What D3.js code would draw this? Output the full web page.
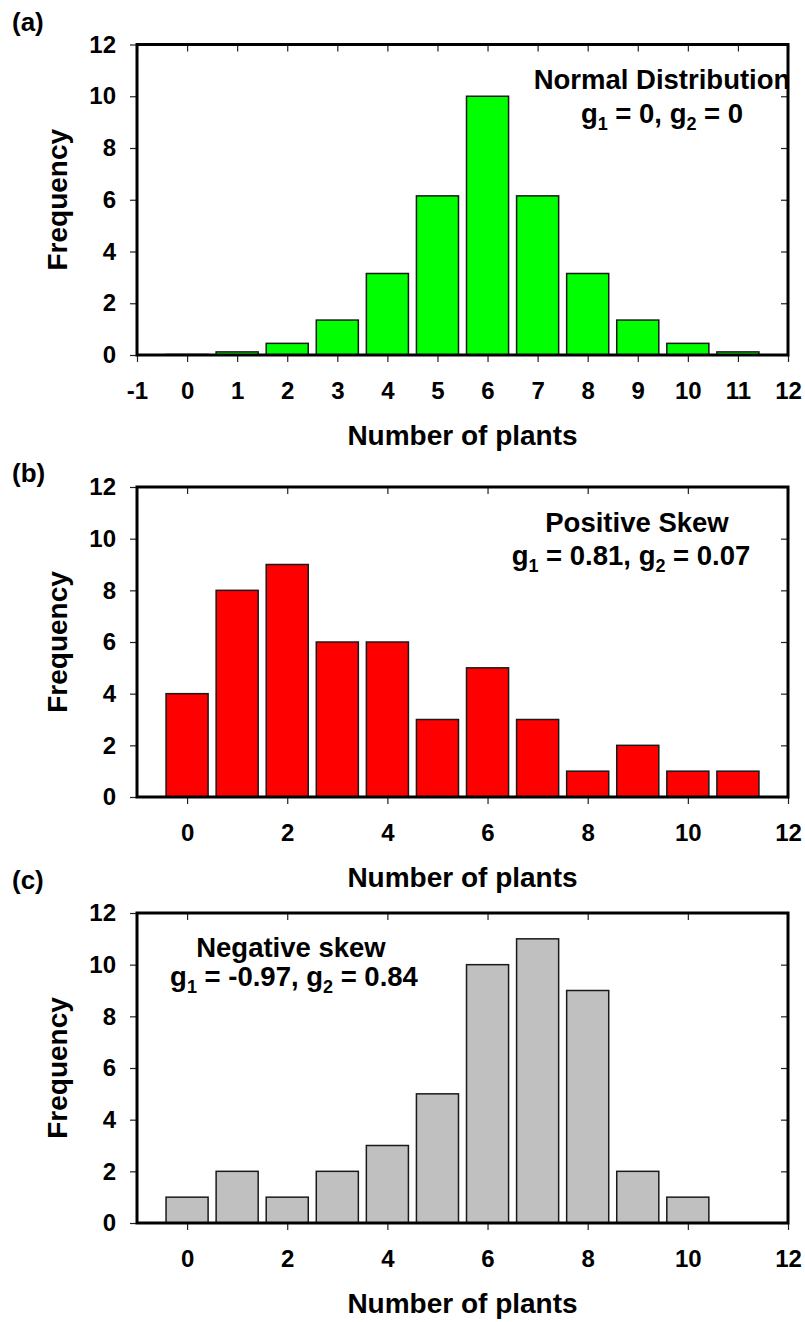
<!DOCTYPE html>
<html>
<head>
<meta charset="utf-8">
<script src="https://cdn.jsdelivr.net/npm/d3@7"></script>
<style>
  body { margin: 0; background: #fff; }
  svg { display: block; }
  text { font-family: "Liberation Sans", Arial, sans-serif; font-weight: bold; fill: #000; }
</style>
</head>
<body>
<div id="chart"></div>
<script>
const width = 805;
const height = 1322;

// DATA
const binsA = [0, 1, 2, 3, 4, 5, 6, 7, 8, 9, 10, 11];
const freqA = [0.02, 0.12, 0.45, 1.35, 3.15, 6.15, 10, 6.15, 3.15, 1.35, 0.45, 0.12];

const binsB = [0, 1, 2, 3, 4, 5, 6, 7, 8, 9, 10, 11];
const freqB = [4, 8, 9, 6, 6, 3, 5, 3, 1, 2, 1, 1];

const binsC = [0, 1, 2, 3, 4, 5, 6, 7, 8, 9, 10];
const freqC = [1, 2, 1, 2, 3, 5, 10, 11, 9, 2, 1];

const yTicks = [0, 2, 4, 6, 8, 10, 12];
const xTicksA = [-1, 0, 1, 2, 3, 4, 5, 6, 7, 8, 9, 10, 11, 12];
const xTicksBC = [0, 2, 4, 6, 8, 10, 12];

const xDomain = [-1, 12];
const yDomain = [0, 12];

const xTitle = "Number of plants";
const yTitle = "Frequency";

// LAYOUT
const left = 137, right = 788;
const barWidth = 0.84;

const panels = [
  {
    label: "(a)", labelY: 31, top: 44.5, bottom: 355,
    bins: binsA, freq: freqA, color: "#00ff00", xTicks: xTicksA,
    note: ["Normal Distribution", ["0", "0"]],
    note1: [662, 89], note2: [662, 123]
  },
  {
    label: "(b)", labelY: 482, top: 487, bottom: 797,
    bins: binsB, freq: freqB, color: "#ff0000", xTicks: xTicksBC,
    note: ["Positive Skew", ["0.81", "0.07"]],
    note1: [637, 532], note2: [631, 565]
  },
  {
    label: "(c)", labelY: 889, top: 913, bottom: 1223,
    bins: binsC, freq: freqC, color: "#c0c0c0", xTicks: xTicksBC,
    note: ["Negative skew", ["-0.97", "0.84"]],
    note1: [291, 957], note2: [294, 986]
  }
];

const svg = d3.select("#chart")
  .append("svg")
  .attr("width", width)
  .attr("height", height);

const x = d3.scaleLinear().domain(xDomain).range([left, right]);

panels.forEach(p => drawPanel(p));

function drawPanel(p) {
  const y = d3.scaleLinear().domain(yDomain).range([p.bottom, p.top]);
  const g = svg.append("g");

  // БАРЫ
  g.append("g")
    .selectAll("rect")
    .data(p.bins.map((b, i) => ({ b, v: p.freq[i] })))
    .enter()
    .append("rect")
    .attr("x", d => x(d.b - barWidth / 2))
    .attr("width", x(barWidth) - x(0))
    .attr("y", d => y(d.v))
    .attr("height", d => y(0) - y(d.v))
    .attr("fill", p.color)
    .attr("stroke", "#1a1a1a")
    .attr("stroke-width", 1.5);

  // ОСИ
  const tickStyle = sel => {
    sel.select(".domain").remove();
    sel.selectAll(".tick line").attr("stroke", "#222").attr("stroke-width", 1.2);
    sel.selectAll(".tick text")
      .attr("font-size", "24px")
      .attr("font-family", "'Liberation Sans', Arial, sans-serif")
      .attr("font-weight", "bold");
  };

  g.append("g")
    .attr("transform", `translate(0,${p.bottom})`)
    .call(d3.axisBottom(x).tickValues(p.xTicks).tickFormat(d => String(d))
      .tickSize(7).tickSizeOuter(0).tickPadding(20))
    .call(tickStyle);

  g.append("g")
    .attr("transform", `translate(0,${p.top})`)
    .call(d3.axisTop(x).tickValues(p.xTicks).tickFormat("")
      .tickSize(-7).tickSizeOuter(0))
    .call(tickStyle);

  g.append("g")
    .attr("transform", `translate(${left},0)`)
    .call(d3.axisLeft(y).tickValues(yTicks).tickFormat(d => String(d))
      .tickSize(7).tickSizeOuter(0).tickPadding(14))
    .call(tickStyle);

  g.append("g")
    .attr("transform", `translate(${right},0)`)
    .call(d3.axisRight(y).tickValues(yTicks).tickFormat("")
      .tickSize(-7).tickSizeOuter(0))
    .call(tickStyle);

  // РАМКА
  g.append("rect")
    .attr("x", left)
    .attr("y", p.top)
    .attr("width", right - left)
    .attr("height", p.bottom - p.top)
    .attr("fill", "none")
    .attr("stroke", "#000")
    .attr("stroke-width", 3);

  // ПОДПИСИ
  g.append("text")
    .attr("x", 12)
    .attr("y", p.labelY)
    .attr("font-size", "26px")
    .text(p.label);

  g.append("text")
    .attr("x", (left + right) / 2)
    .attr("y", p.bottom + 90)
    .attr("text-anchor", "middle")
    .attr("font-size", "28px")
    .text(xTitle);

  g.append("text")
    .attr("transform", `translate(67,${(p.top + p.bottom) / 2}) rotate(-90)`)
    .attr("text-anchor", "middle")
    .attr("font-size", "28px")
    .text(yTitle);

  g.append("text")
    .attr("x", p.note1[0])
    .attr("y", p.note1[1])
    .attr("text-anchor", "middle")
    .attr("font-size", "27.5px")
    .text(p.note[0]);

  const t = g.append("text")
    .attr("x", p.note2[0])
    .attr("y", p.note2[1])
    .attr("text-anchor", "middle")
    .attr("font-size", "27.5px");
  t.append("tspan").text("g");
  t.append("tspan").attr("font-size", "18px").attr("dy", 7).text("1");
  t.append("tspan").attr("dy", -7).text(` = ${p.note[1][0]}, g`);
  t.append("tspan").attr("font-size", "18px").attr("dy", 7).text("2");
  t.append("tspan").attr("dy", -7).text(` = ${p.note[1][1]}`);
}
</script>
</body>
</html>
